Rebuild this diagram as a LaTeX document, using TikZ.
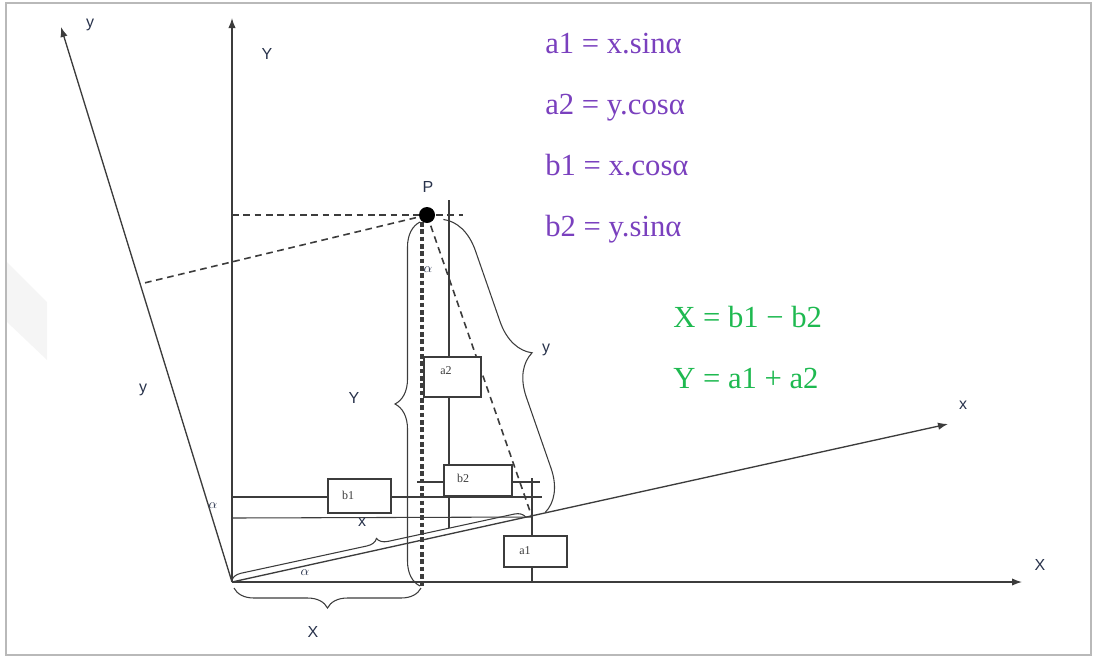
\documentclass[tikz,border=0pt]{standalone}
\usepackage{fontspec}
\setmainfont{Liberation Serif}
\newfontfamily\lsans{Liberation Sans}
\usetikzlibrary{arrows.meta,decorations.pathreplacing,calc}
\definecolor{eqpurple}{RGB}{122,64,190}
\definecolor{eqgreen}{RGB}{30,185,80}
\definecolor{ln}{RGB}{60,60,60}
\definecolor{lbl}{RGB}{40,50,75}
\begin{document}
\begin{tikzpicture}[x=0.75pt,y=-0.75pt,
  axis/.style={draw=ln, line width=1pt, -{Latex[length=7.5pt,width=5.5pt]}},
  thinln/.style={draw=ln, line width=0.8pt},
  dashln/.style={draw=ln, line width=1.2pt, dash pattern=on 5pt off 3.5pt},
  heavydash/.style={draw=ln, line width=2.4pt, dash pattern=on 3.5pt off 2pt},
  boxn/.style={draw=ln, fill=white, line width=0.8pt, inner sep=0pt},
  boxlbl/.style={font=\fontsize{9}{10}\selectfont, text=ln, inner sep=0pt},
  lab/.style={font=\lsans\fontsize{12}{14}\selectfont, text=lbl, inner sep=0pt},
  alab/.style={font=\fontsize{10}{11}\selectfont, text=lbl, inner sep=0pt},
  brc/.style={draw=ln, line width=0.8pt, decorate},
  eq/.style={font=\fontsize{23}{27}\selectfont, anchor=base west, inner sep=0pt},
]
\useasboundingbox (0,0) rectangle (1094,658);
\fill[gray!8] (7,262) -- (47,302) -- (47,360) -- (7,322) -- cycle;
\draw[gray!55, line width=1.2pt] (6,3) rectangle (1091,655);

% key points
\coordinate (O) at (232,582);
\coordinate (Xe) at (1022,582);
\coordinate (Ye) at (232,18);
\coordinate (xe) at (948,424);
\coordinate (ye) at (61,27);
\coordinate (P) at (427,215);
\coordinate (Py) at (140,284);
\coordinate (Px) at (532,517);
\coordinate (Ph) at (232,215);
\coordinate (Pr) at (463,215);
\coordinate (Pv) at (422,222);
\coordinate (Pd) at (422,586);

% axes
\draw[axis] (O) -- (Xe);
\draw[axis] (O) -- (Ye);
\draw[axis] (O) -- (xe);
\draw[axis] (O) -- (ye);

% construction lines
\draw[thinln] (449,200) -- (449,528);
\draw[thinln] (532,478) -- (532,582);
\draw[thinln] (232,497) -- (542,497);
\draw[thinln] (232,518) -- (Px);
\draw[thinln] (417,482) -- (540,482);

% dashed projections
\draw[dashln] (Ph) -- (Pr);
\draw[dashln] (P) -- (Py);
\draw[dashln] (P) -- (Px);
\draw[heavydash] (Pv) -- (Pd);

% braces
\draw[brc, decoration={brace, amplitude=18.75pt}] (420,586) -- (420,222);
\draw[brc, decoration={brace, amplitude=15pt, raise=1.5pt}] (421,586) -- (234,586);
\draw[brc, decoration={brace, amplitude=8pt, raise=1pt}] (O) -- ($(O)!0.98!(Px)$);
\draw[brc, decoration={brace, amplitude=30pt, raise=10.5pt}] ($(P)!0.03!(Px)$) -- (Px);

% boxes
\node[boxn, minimum width=47.25pt, minimum height=23.25pt] (a1) at (535.5,551.5) {};
\node[boxn, minimum width=42.75pt, minimum height=30pt] (a2) at (452.5,377) {};
\node[boxn, minimum width=51pt, minimum height=23.25pt] (b2) at (478,480.5) {};
\node[boxn, minimum width=47.25pt, minimum height=25.5pt] (b1) at (359.5,496) {};
\node[boxlbl] at (525,551) {a1};
\node[boxlbl] at (446,371) {a2};
\node[boxlbl] at (463,478) {b2};
\node[boxlbl] at (348,495) {b1};

% point P
\node[circle, fill=black, minimum size=12pt, inner sep=0pt] (Pdot) at (P) {};

% labels
\node[lab] (ly1) at (90,25) {y};
\node[lab] (lY1) at (267,54) {Y};
\node[lab] (lP) at (428,187) {P};
\node[lab] (ly2) at (143,390) {y};
\node[lab] (lY2) at (354,398) {Y};
\node[lab] (ly3) at (546,350) {y};
\node[lab] (lx1) at (963,405) {x};
\node[lab] (lX1) at (1040,565) {X};
\node[lab] (lx2) at (362,522) {x};
\node[lab] (lX2) at (313,632) {X};

\node[alab] (al1) at (213,506) {$\alpha$};
\node[alab] (al2) at (305,573) {$\alpha$};
\node[alab] (al3) at (428,270) {$\alpha$};

% equations
\node[eq, text=eqpurple] (e1) at (545,53) {a1 = x.sinα};
\node[eq, text=eqpurple] (e2) at (545,114) {a2 = y.cosα};
\node[eq, text=eqpurple] (e3) at (545,175) {b1 = x.cosα};
\node[eq, text=eqpurple] (e4) at (545,236) {b2 = y.sinα};
\node[eq, text=eqgreen] (e5) at (673,327) {X = b1 − b2};
\node[eq, text=eqgreen] (e6) at (673,388) {Y = a1 + a2};
\end{tikzpicture}
\end{document}
